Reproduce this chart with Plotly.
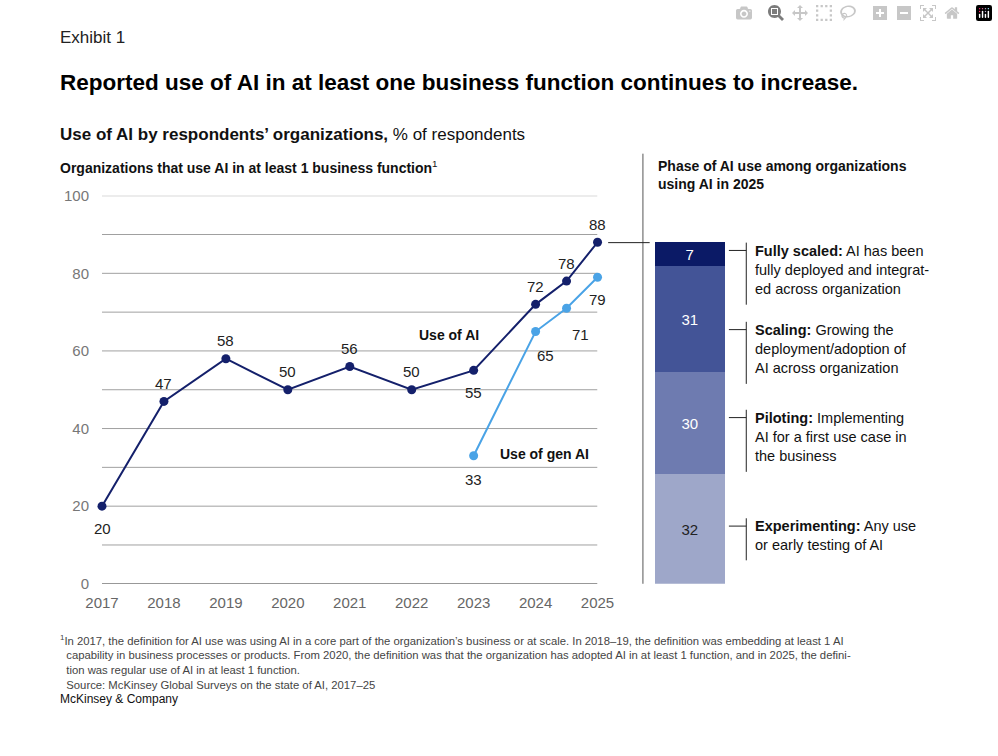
import plotly.graph_objects as go

years = [2017, 2018, 2019, 2020, 2021, 2022, 2023, 2024, 2024.5, 2025]
ai_use = [20, 47, 58, 50, 56, 50, 55, 72, 78, 88]
gen_years = [2023, 2024, 2024.5, 2025]
gen_use = [33, 65, 71, 79]
phases = ["Experimenting", "Piloting", "Scaling", "Fully scaled"]
phase_vals = [32, 30, 31, 7]
phase_colors = ["#9ea7c9", "#6e7bb0", "#435497", "#0b1a66"]
phase_text_colors = ["#222222", "white", "white", "white"]
phase_desc = [
    "<b>Experimenting:</b> Any use<br>or early testing of AI",
    "<b>Piloting:</b> Implementing<br>AI for a first use case in<br>the business",
    "<b>Scaling:</b> Growing the<br>deployment/adoption of<br>AI across organization",
    "<b>Fully scaled:</b> AI has been<br>fully deployed and integrat-<br>ed across organization",
]
xticks = [2017, 2018, 2019, 2020, 2021, 2022, 2023, 2024, 2025]

W, H = 998, 756
FONT = "Liberation Sans"
DARK = "#14206b"
LIGHT = "#4aa3e6"

def px(x): return x / W
def py(y): return 1 - y / H

fig = go.Figure()
fig.add_trace(go.Scatter(x=years, y=ai_use, mode="lines+markers",
                         line=dict(color=DARK, width=2), marker=dict(size=9, color=DARK),
                         cliponaxis=False, showlegend=False))
fig.add_trace(go.Scatter(x=gen_years, y=gen_use, mode="lines+markers",
                         line=dict(color=LIGHT, width=2), marker=dict(size=9, color=LIGHT),
                         cliponaxis=False, showlegend=False))

total = ai_use[-1]
for v, c, tc in zip(phase_vals, phase_colors, phase_text_colors):
    fig.add_trace(go.Bar(x=[0], y=[v * total / 100], marker=dict(color=c, line=dict(width=0)),
                         text=[str(v)], textposition="inside", insidetextanchor="middle",
                         textfont=dict(color=tc, size=15, family=FONT),
                         xaxis="x2", yaxis="y", width=1, showlegend=False))

ann = []
ai_off = [-22, 18, 18, 18, 18, 18, -22, 18, 18, 18]
for x, y, o in zip(years, ai_use, ai_off):
    ann.append(dict(x=x, y=y, text=str(y), showarrow=False, yshift=o,
                    font=dict(size=15, color="#222", family=FONT)))
gen_off = [(0, -24), (10, -24), (14, -26), (0, -22)]
for x, y, (dx, dy) in zip(gen_years, gen_use, gen_off):
    ann.append(dict(x=x, y=y, text=str(y), showarrow=False, xshift=dx, yshift=dy,
                    font=dict(size=15, color="#222", family=FONT)))
ann.append(dict(x=2022.6, y=64, text="<b>Use of AI</b>", showarrow=False,
                font=dict(size=14, color="#111", family=FONT)))
ann.append(dict(x=2023.4, y=33.5, text="<b>Use of gen AI</b>", showarrow=False, xanchor="left",
                font=dict(size=14, color="#111", family=FONT)))

def t(x, y, text, size, color="#111", anchor="left", yanchor="top"):
    ann.append(dict(xref="paper", yref="paper", x=px(x), y=py(y), text=text, showarrow=False,
                    xanchor=anchor, yanchor=yanchor, align="left",
                    font=dict(size=size, color=color, family=FONT)))

t(42, 17, "Exhibit 1", 17, "#222")
t(42, 60, "<b>Reported use of AI in at least one business function continues to increase.</b>", 22.5, "#000")
t(42, 117, "<b>Use of AI by respondents’ organizations,</b> % of respondents", 17, "#111")
t(42, 150, "<b>Organizations that use AI in at least 1 business function</b><sup>1</sup>", 14)
t(662, 150, "<b>Phase of AI use among organizations<br>using AI in 2025</b>", 14)
t(42, 636, "<sup>1</sup>In 2017, the definition for AI use was using AI in a core part of the organization’s business or at scale. In 2018–19, the definition was embedding at least 1 AI<br>  capability in business processes or products. From 2020, the definition was that the organization has adopted AI in at least 1 function, and in 2025, the defini-<br>  tion was regular use of AI in at least 1 function.<br>  Source: McKinsey Global Surveys on the state of AI, 2017–25", 11.3, "#444")
t(42, 697, "McKinsey & Company", 12, "#111")

shapes = []
desc_tops = [519, 408, 318, 237]
desc_lines = [2, 3, 3, 3]
for d, top, n in zip(phase_desc, desc_tops, desc_lines):
    t(762, top, d, 14.5, "#111")
    bot = top + n * 20.5 + 4
    shapes.append(dict(type="line", xref="paper", yref="paper", x0=px(755), x1=px(755),
                       y0=py(top + 2), y1=py(bot), line=dict(color="#222", width=1)))
    shapes.append(dict(type="line", xref="paper", yref="paper", x0=px(737), x1=px(755),
                       y0=py(top + 10), y1=py(top + 10), line=dict(color="#222", width=1)))
shapes.append(dict(type="line", xref="paper", yref="paper", x0=px(648), x1=px(648),
                   y0=py(148), y1=py(588), line=dict(color="#555", width=1)))
shapes.append(dict(type="line", xref="paper", yref="paper", x0=px(612), x1=px(655),
                   y0=py(239), y1=py(239), line=dict(color="#222", width=1)))

fig.update_layout(
    width=W, height=H, margin=dict(l=0, r=0, t=0, b=0),
    paper_bgcolor="white", plot_bgcolor="white", barmode="stack",
    font=dict(family=FONT),
    xaxis=dict(domain=[px(88), px(601)], range=[2017, 2025], tickvals=xticks,
               showgrid=False, zeroline=False, ticks="", tickfont=dict(size=15, color="#666"),
               ticklabelstandoff=8, fixedrange=True),
    yaxis=dict(domain=[1 - 588 / H, 1 - 191 / H], range=[0, 100],
               tickvals=[0, 20, 40, 60, 80, 100], showgrid=False, zeroline=False,
               tickfont=dict(size=15, color="#777"), ticklabelstandoff=12),
    xaxis2=dict(domain=[px(660), px(733)], range=[-0.5, 0.5], visible=False),
    annotations=ann, shapes=shapes,
)
for g in range(0, 101, 10):
    fig.add_shape(type="line", xref="x", yref="y", x0=2017, x1=2025, y0=g, y1=g,
                  line=dict(color="#444" if g == 0 else "#a0a0a0", width=1), layer="below")

fig.write_html("out.html",
               post_script="document.body.style.margin='0';document.body.style.overflow='hidden';")
